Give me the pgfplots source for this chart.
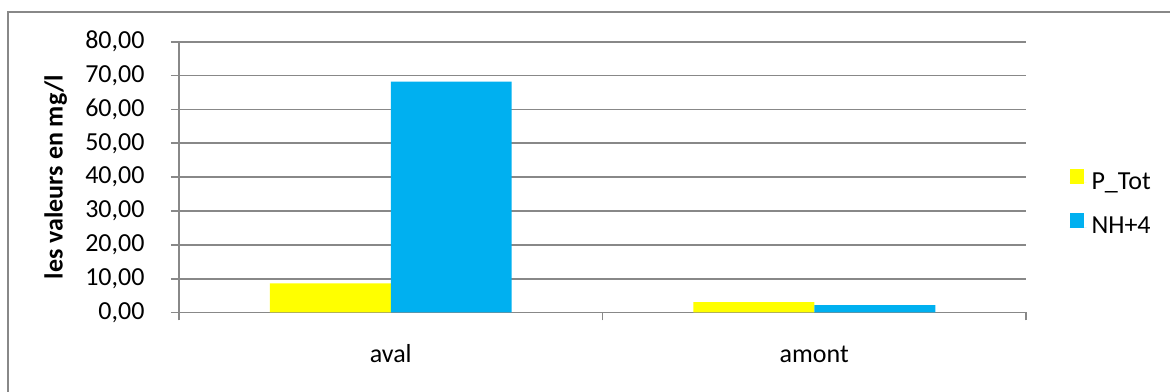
\documentclass[border=0pt]{standalone}
\usepackage{pgfplots}
\pgfplotsset{compat=1.18}
\usepackage{fontspec}
\setmainfont{Carlito}
\definecolor{ptot}{HTML}{FFFF00}
\definecolor{nh}{HTML}{00B0F0}
\definecolor{gridc}{HTML}{888888}
\begin{document}
\begin{tikzpicture}[font=\fontsize{10.4}{12.5}\selectfont]
\useasboundingbox (-71.6pt,-31.8pt) rectangle (396.4pt,125pt);
\draw[gridc, line width=0.8pt] (-68.4pt,-40pt) -- (-68.4pt,120.2pt) -- (400pt,120.2pt);
\begin{axis}[
  at={(0pt,0pt)}, anchor=south west,
  scale only axis, width=338.8pt, height=108.3pt,
  ymin=0, ymax=80, ytick={0,10,...,80},
  xmin=-0.5, xmax=1.5,
  xtick={-0.5,0.5,1.5}, xticklabels={},
  extra x ticks={0,1}, extra x tick labels={aval,amont},
  extra x tick style={major tick length=0pt, xticklabel style={anchor=base, yshift=-20.2pt}},
  ybar=0pt, bar width=0.2857,
  ymajorgrids, grid style={gridc, line width=0.7pt},
  axis lines*=left,
  axis line style={gridc, line width=0.7pt},
  tick style={gridc, line width=0.7pt},
  tick align=outside, major tick length=3.2pt,
  yticklabel style={anchor=east, inner sep=0pt, xshift=-10.4pt,
    /pgf/number format/.cd, fixed, fixed zerofill, precision=2, use comma, assume math mode=true},
  ylabel={les valeurs en mg/l},
  ylabel style={at={(axis description cs:-0.1373,0.5)}, anchor=base, rotate=0, font=\fontsize{10.4}{12.5}\selectfont\bfseries},
  legend style={at={(axis description cs:1.0508,0.397)}, anchor=west, draw=none, fill=none,
    inner sep=0pt, row sep=5.6pt, cells={anchor=west}, font=\fontsize{10.4}{12.5}\selectfont},
]
\addplot[fill=ptot, draw=none, legend image code/.code={\path (0pt,0pt) -- (6.8pt,0pt); \fill[ptot] (0pt,-0.5pt) rectangle (5.6pt,5.5pt);}] coordinates {(0,8.6) (1,3.1)};
\addplot[fill=nh, draw=none, legend image code/.code={\path (0pt,0pt) -- (6.8pt,0pt); \fill[nh] (0pt,-0.5pt) rectangle (5.6pt,5.5pt);}] coordinates {(0,68.2) (1,2.2)};
\legend{P\_Tot, NH+4}
\end{axis}
\end{tikzpicture}
\end{document}
